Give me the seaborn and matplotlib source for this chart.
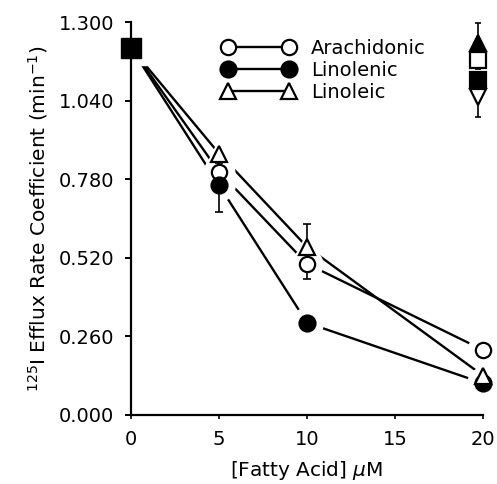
import numpy as np
import pandas as pd
import matplotlib
matplotlib.use("Agg")
import matplotlib.pyplot as plt
from matplotlib.lines import Line2D
import seaborn as sns

# Fatty acid concentration (uM) and efflux rate coefficients (min^-1)
conc = [0, 5, 10, 20]
arachidonic = [1.215, 0.805, 0.500, 0.215]
linolenic = [1.215, 0.760, 0.305, 0.105]
linoleic = [1.215, 0.865, 0.556, 0.130]

# one-sided error (SE) shown for each point: (lower, upper)
arachidonic_err_lo = [0, 0.03, 0.05, 0]
arachidonic_err_hi = [0, 0.03, 0, 0]
linolenic_err_lo = [0, 0.09, 0, 0]
linolenic_err_hi = [0, 0, 0, 0]
linoleic_err_lo = [0, 0, 0, 0]
linoleic_err_hi = [0, 0, 0.075, 0]

# control values shown at the end of the run
ctrl_x = 19.7
ctrl_vals = [1.232, 1.175, 1.109, 1.053]
ctrl_err_lo = [0, 0.03, 0, 0.066]
ctrl_err_hi = [0.066, 0.03, 0, 0]

y_ticks = [0.0, 0.26, 0.52, 0.78, 1.04, 1.30]
x_ticks = [0, 5, 10, 15, 20]

sns.set_style("ticks")
plt.rcParams["font.family"] = ["DejaVu Sans"]
plt.rcParams["mathtext.fontset"] = "dejavusans"
plt.rcParams["text.color"] = "black"
plt.rcParams["axes.labelcolor"] = "black"
plt.rcParams["xtick.color"] = "black"
plt.rcParams["ytick.color"] = "black"

fig = plt.figure(figsize=(4.97, 4.84), dpi=100)
ax = fig.add_axes([0.2636, 0.1426, 0.7084, 0.8119])

series = [
    ("Arachidonic", arachidonic, arachidonic_err_lo, arachidonic_err_hi, "o", "white", 11),
    ("Linolenic", linolenic, linolenic_err_lo, linolenic_err_hi, "o", "black", 11.5),
    ("Linoleic", linoleic, linoleic_err_lo, linoleic_err_hi, "^", "white", 11),
]

df = pd.concat(
    [pd.DataFrame({"conc": conc, "rate": vals, "acid": name}) for name, vals, *_ in series],
    ignore_index=True,
)

lw = 1.7
sns.lineplot(data=df, x="conc", y="rate", units="acid", estimator=None,
             color="black", linewidth=lw, ax=ax, legend=False, zorder=1)

# white halos leave a gap between connecting lines and symbols
for name, vals, lo, hi, mk, fc, ms in series:
    ax.plot(conc[1:], vals[1:], linestyle="none", marker=mk, ms=ms + 11,
            mfc="white", mec="white", zorder=2, clip_on=False)
ax.plot([conc[0]], [arachidonic[0]], linestyle="none", marker="s", ms=24,
        mfc="white", mec="white", zorder=2, clip_on=False)

for name, vals, lo, hi, mk, fc, ms in series:
    ax.errorbar(conc[1:], vals[1:], yerr=[lo[1:], hi[1:]], fmt="none",
                ecolor="black", elinewidth=1.2, capsize=3, capthick=1.2,
                zorder=3, clip_on=False)
    ax.plot(conc[1:], vals[1:], linestyle="none", marker=mk, ms=ms,
            mfc=fc, mec="black", mew=1.6, zorder=4, clip_on=False)

# common starting value (no fatty acid)
ax.plot([conc[0]], [arachidonic[0]], linestyle="none", marker="s", ms=14,
        mfc="black", mec="black", zorder=5, clip_on=False)

# controls
ctrl_markers = [("^", "black"), ("s", "white"), ("s", "black"), ("v", "white")]
ax.errorbar([ctrl_x] * 4, ctrl_vals, yerr=[ctrl_err_lo, ctrl_err_hi], fmt="none",
            ecolor="black", elinewidth=1.2, capsize=2, capthick=1.2,
            zorder=3, clip_on=False)
for v, (mk, fc) in zip(ctrl_vals, ctrl_markers):
    ax.plot([ctrl_x], [v], linestyle="none", marker=mk, ms=12 if mk == "s" else 11,
            mfc=fc, mec="black", mew=1.6, zorder=4, clip_on=False)

ax.set_xlim(0, 20)
ax.set_ylim(0, 1.3)
ax.set_xticks(x_ticks)
ax.set_xticklabels([str(t) for t in x_ticks])
ax.set_yticks(y_ticks)
ax.set_yticklabels([f"{t:.3f}" for t in y_ticks])
sns.despine(ax=ax)
for sp in ("left", "bottom"):
    ax.spines[sp].set_linewidth(1.6)
    ax.spines[sp].set_color("black")
ax.tick_params(axis="y", direction="out", length=4, width=1.4, pad=8,
               labelsize=14, colors="black")
ax.tick_params(axis="x", direction="out", length=3, width=1.2, pad=8,
               labelsize=14, colors="black")

ax.set_xlabel(r"[Fatty Acid] $\mu$M", fontsize=14.5, labelpad=7, color="black")
ax.set_ylabel(r"$^{125}$I Efflux Rate Coefficient (min$^{-1}$)", fontsize=14.5,
              labelpad=6, color="black")

handles = [
    Line2D([], [], color="black", lw=lw, marker=mk, ms=ms, mfc=fc, mec="black", mew=1.6)
    for name, vals, lo, hi, mk, fc, ms in series
]
labels = [s[0] for s in series]
leg = fig.legend(handles, labels, loc="upper left",
                 bbox_to_anchor=(222.2 / 497, 1 - 39 / 484),
                 bbox_transform=fig.transFigure, frameon=False, numpoints=2,
                 handlelength=3.75, handletextpad=0.82, labelspacing=0.15,
                 borderpad=0, borderaxespad=0, fontsize=14, labelcolor="black")

fig.savefig("out.png", dpi=100)
